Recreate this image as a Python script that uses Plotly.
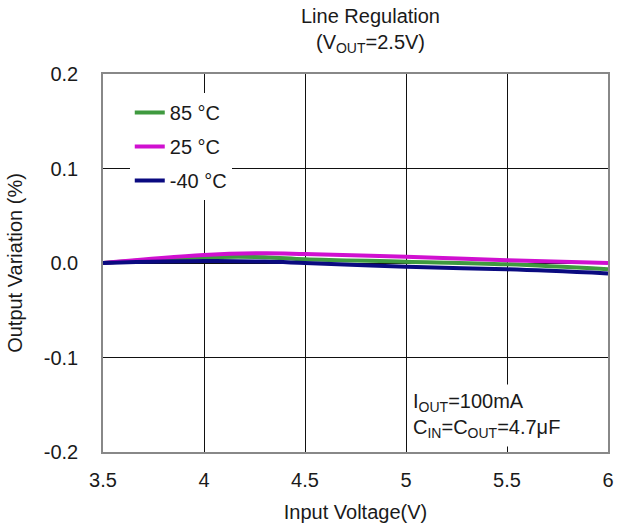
import plotly.graph_objects as go

vin = [3.5, 4.0, 4.3, 4.5, 5.0, 5.5, 6.0]
var_85 = [0.0, 0.006, 0.0062, 0.004, 0.0014, -0.0014, -0.0067]
var_25 = [0.0, 0.0085, 0.0103, 0.0095, 0.0067, 0.003, 0.0]
var_m40 = [0.0, 0.002, 0.0015, 0.0, -0.004, -0.0067, -0.011]

series = [("85 °C", var_85, "#3f9a3f"), ("25 °C", var_25, "#d010d0"), ("-40 °C", var_m40, "#0a0a80")]

FONT = "Liberation Sans, Arial, sans-serif"
FS = 20
TXT = "#1a1a1a"

fig = go.Figure()
for i, (name, ys, col) in enumerate(series):
    fig.add_trace(go.Scatter(x=vin, y=ys, name=name, mode="lines", line=dict(color=col, width=4, shape="spline"),
                             legendgroup=str(i)))

fig.update_layout(
    width=621, height=527,
    margin=dict(l=103, r=7, t=74, b=75),
    paper_bgcolor="white", plot_bgcolor="white",
    font=dict(family=FONT, size=FS, color=TXT),
    xaxis=dict(range=[3.5, 6], tickvals=[3.5, 4, 4.5, 5, 5.5, 6], ticktext=["3.5", "4", "4.5", "5", "5.5", "6"],
               showgrid=True, gridcolor="#111", gridwidth=1, zeroline=False,
               showline=True, linecolor="#888", linewidth=1.5, mirror=True, ticks="",
               tickfont=dict(family=FONT, size=FS, color=TXT),
               ticklabelstandoff=9,
               title=dict(text="Input Voltage(V)", standoff=15, font=dict(family=FONT, size=FS, color=TXT))),
    yaxis=dict(range=[-0.2, 0.2], tickvals=[-0.2, -0.1, 0, 0.1, 0.2], ticktext=["-0.2", "-0.1", "0.0", "0.1", "0.2"],
               showgrid=True, gridcolor="#111", gridwidth=1, zeroline=False,
               showline=True, linecolor="#888", linewidth=1.5, mirror=True, ticks="",
               tickfont=dict(family=FONT, size=FS, color=TXT),
               ticklabelstandoff=19,
               title=dict(text="Output Variation (%)", standoff=16, font=dict(family=FONT, size=FS, color=TXT))),
    legend=dict(x=0.053, y=0.95, xanchor="left", yanchor="top", bgcolor="white", tracegroupgap=5,
                font=dict(family=FONT, size=FS, color=TXT)),
)

fig.add_annotation(xref="paper", yref="paper", x=0.53, y=1, yshift=16, xanchor="center", yanchor="bottom",
                   text="Line Regulation<br>(V<sub>OUT</sub>=2.5V)", showarrow=False,
                   font=dict(family=FONT, size=FS, color=TXT))

fig.add_annotation(xref="paper", yref="paper", x=0.601, y=0.013, xanchor="left", yanchor="bottom",
                   text="I<sub>OUT</sub>=100mA<br>C<sub>IN</sub>=C<sub>OUT</sub>=4.7μF", align="left",
                   showarrow=False, bgcolor="white", borderpad=5,
                   font=dict(family=FONT, size=FS, color=TXT))

fig.write_html("out.html")
